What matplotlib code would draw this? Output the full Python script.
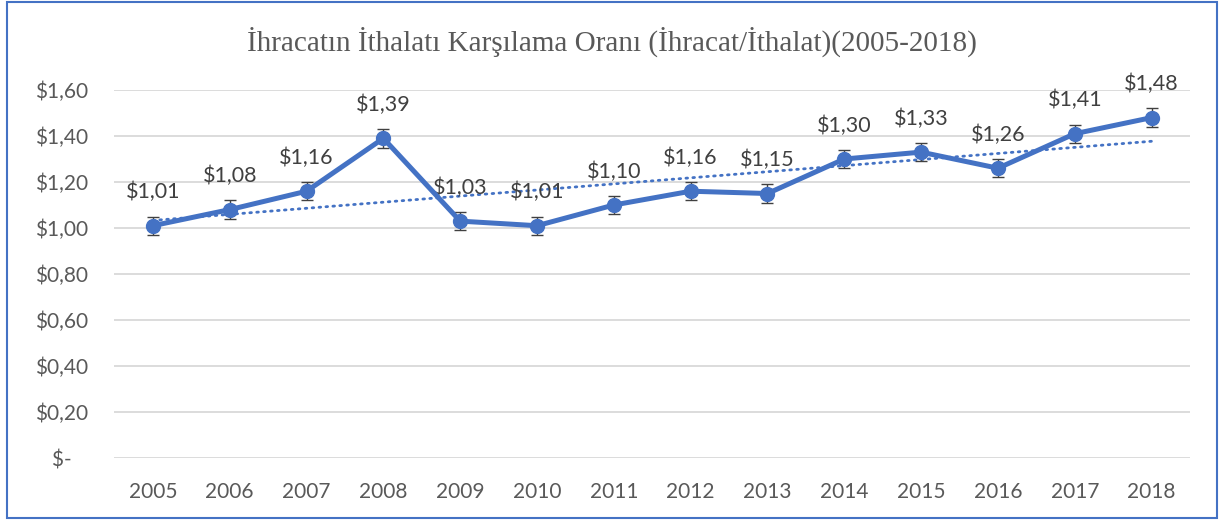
import numpy as np
import matplotlib
matplotlib.use("Agg")
import matplotlib.pyplot as plt
from matplotlib.patches import Rectangle

years = ["2005", "2006", "2007", "2008", "2009", "2010", "2011",
         "2012", "2013", "2014", "2015", "2016", "2017", "2018"]
ratio = [1.01, 1.08, 1.16, 1.39, 1.03, 1.01, 1.10,
         1.16, 1.15, 1.30, 1.33, 1.26, 1.41, 1.48]
err = [0.04] * len(years)
ytick_vals = [0.0, 0.2, 0.4, 0.6, 0.8, 1.0, 1.2, 1.4, 1.6]
ytick_labels = ["$-   ", "$0,20", "$0,40", "$0,60", "$0,80",
                "$1,00", "$1,20", "$1,40", "$1,60"]
title = "İhracatın İthalatı Karşılama Oranı (İhracat/İthalat)(2005-2018)"

blue = "#4472C4"
grey = "#595959"
plt.rcParams['font.family'] = ['Lato', 'DejaVu Sans']

fig = plt.figure(figsize=(12.19, 5.2), dpi=100)
ax = fig.add_axes([0.0939, 0.1192, 0.8823, 0.7077])

x = np.arange(len(years))
y = np.array(ratio)

# linear trend line
k, b = np.polyfit(x, y, 1)
ax.plot(x, k * x + b, color=blue, lw=2.0, linestyle=(0, (0.6, 1.9)),
        dash_capstyle="round", zorder=2)

ax.errorbar(x, y, yerr=err, fmt="none", ecolor="#404040", elinewidth=1.0,
            capsize=4, capthick=1.0, zorder=3)
ax.plot(x, y, color=blue, lw=3.6, marker="o", markersize=10,
        solid_joinstyle="round", zorder=4)

for xi, yi in zip(x, y):
    ax.annotate("$" + f"{yi:.2f}".replace(".", ","), (xi, yi),
                xytext=(0, 24), textcoords="offset points",
                ha="center", va="center", fontsize=15.5, color="#404040")

ax.set_xlim(-0.5, len(years) - 0.5)
ax.set_ylim(0, 1.6)
ax.set_xticks(x)
ax.set_xticklabels(years, fontsize=15, color=grey)
ax.set_yticks(ytick_vals)
ax.set_yticklabels(ytick_labels, fontsize=15, color=grey)
ax.tick_params(length=0, axis="x", pad=17)
ax.tick_params(length=0, axis="y", pad=19)
ax.grid(axis="y", color="#D9D9D9", lw=1.3)
ax.set_axisbelow(True)
for s in ax.spines.values():
    s.set_visible(False)

fig.text(0.502, 0.919, title, ha="center", va="center", fontsize=21,
         color=grey, family=["Liberation Serif", "DejaVu Serif"])

fig.add_artist(Rectangle((7 / 1219, 2 / 520), 1210 / 1219, 516 / 520,
                         transform=fig.transFigure, fill=False,
                         ec=blue, lw=1.5))

fig.savefig("out.png", dpi=100)
